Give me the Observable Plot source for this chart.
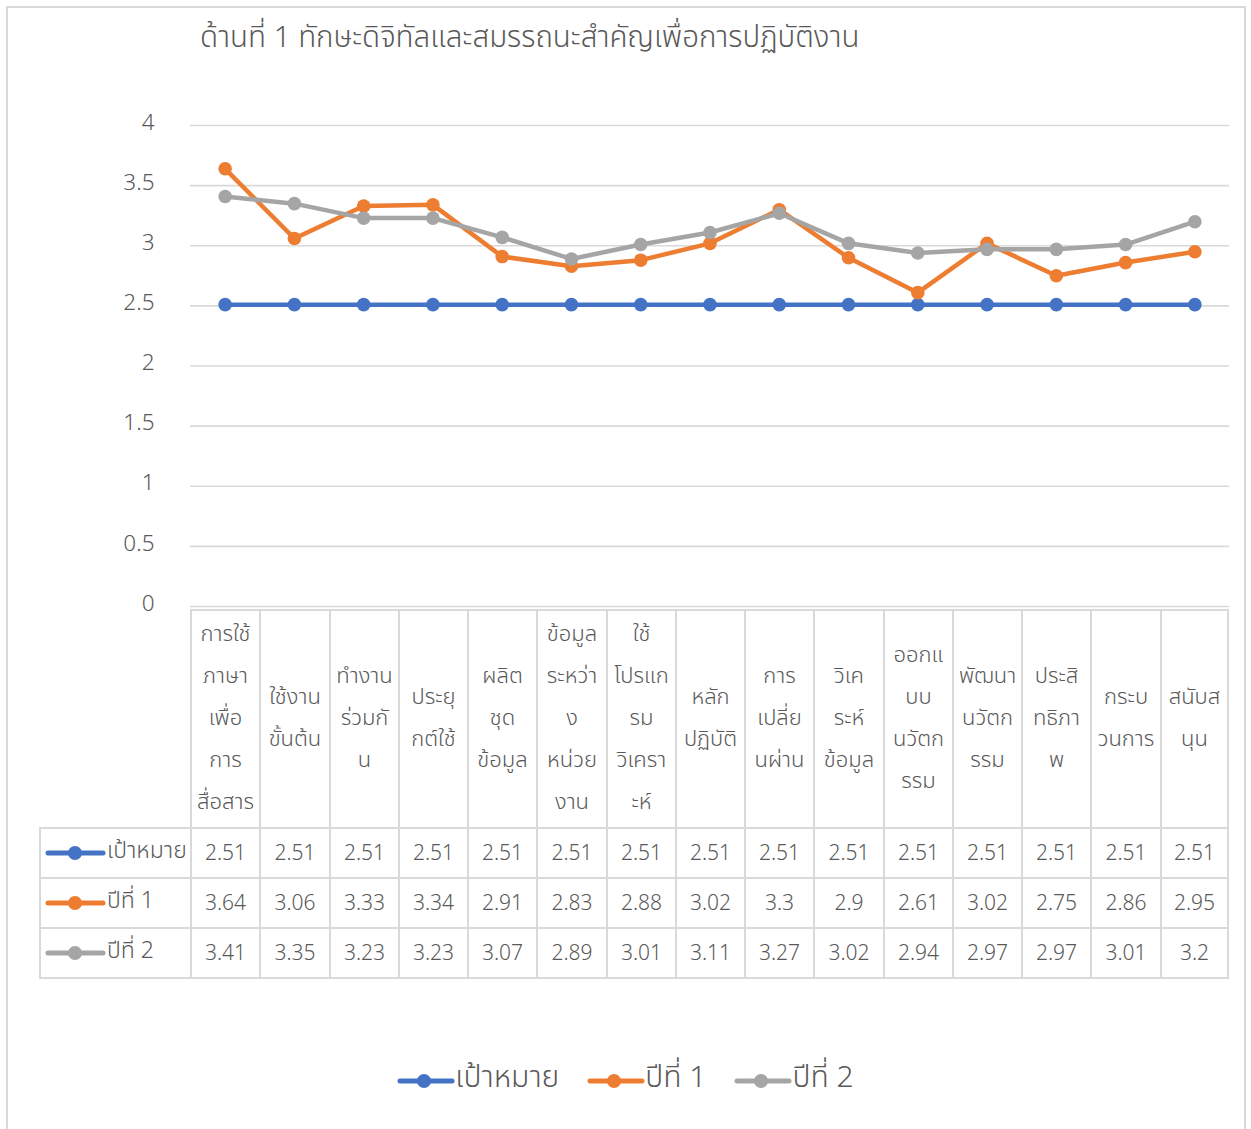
<!DOCTYPE html>
<html>
<head>
<meta charset="utf-8">
<script src="https://cdn.jsdelivr.net/npm/d3@7"></script>
<script src="https://cdn.jsdelivr.net/npm/@observablehq/plot@0.6"></script>
<style>
  html, body { margin: 0; padding: 0; background: #fff; }
  #wrap { position: relative; width: 1251px; height: 1129px; overflow: hidden;
          font-family: "Noto Sans Thai", "Noto Sans", "DejaVu Sans", sans-serif; color: #595959; }
  #frame { position: absolute; left: 6px; top: 6px; width: 1236px; height: 1140px; border: 2px solid #d9d9d9; }
  #title { position: absolute; left: 200px; top: 16px; font-size: 29.5px; font-weight: 300; color: #595959; white-space: nowrap; }
  #chart { position: absolute; left: 0; top: 0; }
  .cell { position: absolute; box-sizing: border-box; display: flex; align-items: center; justify-content: center;
          text-align: center; color: #595959; }
  .hdr { font-size: 22px; line-height: 42px; white-space: pre-line; font-weight: 300; }
  .num { font-size: 21px; font-weight: 300; }
  .key { justify-content: flex-start; font-size: 23px; font-weight: 300; }
  #legend { position: absolute; left: 0; top: 1061px; width: 1251px; display: flex; justify-content: center; gap: 28px; font-size: 30px; font-weight: 300; }
  #legend .item { display: flex; align-items: center; }
</style>
</head>
<body>
<div id="wrap">
  <div id="frame"></div>
  <div id="title"></div>
  <div id="chart"></div>
  <div id="table"></div>
  <div id="legend"></div>
</div>
<script>
// ---- data ----
const titleText = "ด้านที่ 1 ทักษะดิจิทัลและสมรรถนะสำคัญเพื่อการปฏิบัติงาน";
const categories = [
  "การใช้ภาษาเพื่อการสื่อสาร", "ใช้งานขั้นต้น", "ทำงานร่วมกัน", "ประยุกต์ใช้", "ผลิตชุดข้อมูล",
  "ข้อมูลระหว่างหน่วยงาน", "ใช้โปรแกรมวิเคราะห์", "หลักปฏิบัติ", "การเปลี่ยนผ่าน", "วิเคระห์ข้อมูล",
  "ออกแบบนวัตกรรม", "พัฒนานวัตกรรม", "ประสิทธิภาพ", "กระบวนการ", "สนับสนุน"
];
const categoryLabels = [
  "การใช้\nภาษา\nเพื่อ\nการ\nสื่อสาร", "ใช้งาน\nขั้นต้น", "ทำงาน\nร่วมกั\nน", "ประยุ\nกต์ใช้", "ผลิต\nชุด\nข้อมูล",
  "ข้อมูล\nระหว่า\nง\nหน่วย\nงาน", "ใช้\nโปรแก\nรม\nวิเครา\nะห์", "หลัก\nปฏิบัติ", "การ\nเปลี่ย\nนผ่าน", "วิเค\nระห์\nข้อมูล",
  "ออกแ\nบบ\nนวัตก\nรรม", "พัฒนา\nนวัตก\nรรม", "ประสิ\nทธิภา\nพ", "กระบ\nวนการ", "สนับส\nนุน"
];
const seriesNames = ["เป้าหมาย", "ปีที่ 1", "ปีที่ 2"];
const target = [2.51, 2.51, 2.51, 2.51, 2.51, 2.51, 2.51, 2.51, 2.51, 2.51, 2.51, 2.51, 2.51, 2.51, 2.51];
const year1  = [3.64, 3.06, 3.33, 3.34, 2.91, 2.83, 2.88, 3.02, 3.3, 2.9, 2.61, 3.02, 2.75, 2.86, 2.95];
const year2  = [3.41, 3.35, 3.23, 3.23, 3.07, 2.89, 3.01, 3.11, 3.27, 3.02, 2.94, 2.97, 2.97, 3.01, 3.2];
const seriesColors = ["#4472C4", "#ED7D31", "#A5A5A5"];
const yTicks = [0, 0.5, 1, 1.5, 2, 2.5, 3, 3.5, 4];

// ---- build ----
const seriesValues = [target, year1, year2];
const rows = [];
seriesNames.forEach((s, si) => categories.forEach((c, i) => rows.push({series: s, category: c, value: seriesValues[si][i]})));

document.getElementById("title").textContent = titleText;

const seriesMarks = seriesNames.flatMap(s => {
  const d = rows.filter(r => r.series === s);
  return [
    Plot.line(d, {x: "category", y: "value", stroke: "series", strokeWidth: 4.5, strokeLinecap: "round", strokeLinejoin: "round"}),
    Plot.dot(d, {x: "category", y: "value", fill: "series", r: 6.8, stroke: null})
  ];
});

const plot = Plot.plot({
  width: 1251,
  height: 640,
  marginLeft: 190,
  marginRight: 22,
  marginTop: 125,
  marginBottom: 34,
  style: {background: "transparent", fontFamily: "'Noto Sans', 'DejaVu Sans', sans-serif"},
  x: {type: "point", domain: categories, padding: 0.5, round: false, axis: null},
  y: {domain: [0, 4]},
  color: {domain: seriesNames, range: seriesColors},
  marks: [
    Plot.gridY(yTicks, {stroke: "#d9d9d9", strokeOpacity: 1, strokeWidth: 1.6}),
    Plot.axisY(yTicks, {tickSize: 0, tickPadding: 36, dy: -3, fontSize: 22.5, fill: "#595959", label: null, fontWeight: 300, tickFormat: d => String(d)}),
    ...seriesMarks
  ]
});
document.getElementById("chart").appendChild(plot);

// ---- data table aligned to the x scale ----
const xs = plot.scale("x");
const step = xs.apply(categories[1]) - xs.apply(categories[0]);
const table = document.getElementById("table");
const border = "2px solid #d9d9d9";
const hdrTop = 609, hdrBottom = 827;
const rowEdges = [827, 877, 927, 979];
const keyLeft = 39;

function cell(cls, left, top, w, h, html) {
  const d = document.createElement("div");
  d.className = "cell " + cls;
  Object.assign(d.style, {left: left + "px", top: top + "px", width: w + "px", height: h + "px",
    borderLeft: border, borderTop: border});
  d.innerHTML = html;
  table.appendChild(d);
  return d;
}
const colLeft = c => Math.round(xs.apply(c) - step / 2);
const colRight = c => Math.round(xs.apply(c) + step / 2);

categories.forEach((c, i) => {
  const l = colLeft(c), r = colRight(c);
  const hc = cell("hdr", l, hdrTop, r - l, hdrBottom - hdrTop, "");
  hc.textContent = categoryLabels[i];
  if (i === categories.length - 1) hc.style.borderRight = border;
});
seriesNames.forEach((s, si) => {
  const top = rowEdges[si], h = rowEdges[si + 1] - rowEdges[si];
  const left0 = colLeft(categories[0]);
  const k = cell("key", keyLeft, top, left0 - keyLeft, h,
    `<svg width="62" height="20" style="margin-left:4px;flex:none"><line x1="3" y1="10" x2="58" y2="10" stroke="${seriesColors[si]}" stroke-width="5" stroke-linecap="round"/><circle cx="30" cy="10" r="7" fill="${seriesColors[si]}"/></svg><span style="margin-top:-4px">${s}</span>`);
  if (si === seriesNames.length - 1) k.style.borderBottom = border;
  categories.forEach((c, i) => {
    const l = colLeft(c), r = colRight(c);
    const d = cell("num", l, top, r - l, h, "");
    d.textContent = String(seriesValues[si][i]);
    if (i === categories.length - 1) d.style.borderRight = border;
    if (si === seriesNames.length - 1) d.style.borderBottom = border;
  });
});

// ---- legend ----
const legend = document.getElementById("legend");
seriesNames.forEach((s, si) => {
  const it = document.createElement("div");
  it.className = "item";
  it.innerHTML = `<svg width="58" height="22" style="flex:none"><line x1="3" y1="11" x2="55" y2="11" stroke="${seriesColors[si]}" stroke-width="5" stroke-linecap="round"/><circle cx="27" cy="11" r="7" fill="${seriesColors[si]}"/></svg><span style="margin-top:-6px">${s}</span>`;
  legend.appendChild(it);
});
</script>
</body>
</html>
